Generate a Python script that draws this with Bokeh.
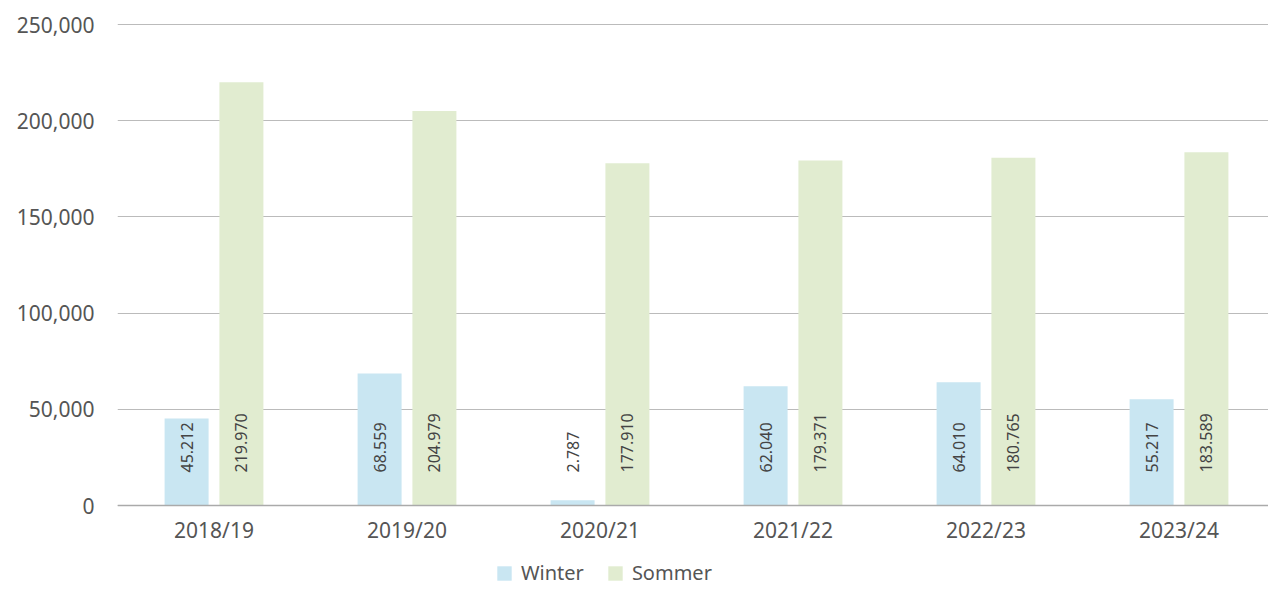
from bokeh.plotting import figure
from bokeh.models import ColumnDataSource, FixedTicker, Legend, LegendItem, NumeralTickFormatter
from bokeh.embed import file_html
from bokeh.resources import INLINE
from bokeh.core.properties import value
import math

seasons = ["2018/19", "2019/20", "2020/21", "2021/22", "2022/23", "2023/24"]
winter = [45212, 68559, 2787, 62040, 64010, 55217]
sommer = [219970, 204979, 177910, 179371, 180765, 183589]
y_ticks = [0, 50000, 100000, 150000, 200000, 250000]

def fmt(v):
    return f"{v:,}".replace(",", ".")

xs = [i + 0.5 for i in range(len(seasons))]
off = 0.142
bw = 0.228

src_w = ColumnDataSource(dict(x=[x - off for x in xs], top=winter, lab=[fmt(v) for v in winter], zero=[0]*len(xs)))
src_s = ColumnDataSource(dict(x=[x + off for x in xs], top=sommer, lab=[fmt(v) for v in sommer], zero=[0]*len(xs)))

W, H = 1268, 592
LEFT, TOP = 117, 16
unit = 481 / 250000
BOTTOM_PX = 592 - 505  # space below the zero line
TOP_PX = 24 - TOP       # space above the top gridline
p = figure(width=W, height=H, output_backend="svg", toolbar_location=None,
           x_range=(0, (W - LEFT) / 193),
           y_range=(-BOTTOM_PX / unit, 250000 + TOP_PX / unit),
           min_border_left=LEFT, min_border_right=0, min_border_top=TOP, min_border_bottom=0)
p.outline_line_color = None
p.background_fill_color = "white"

FONT = "Noto Sans"
TXT = "#555555"

rw = p.vbar(x="x", top="top", bottom=0, width=bw, source=src_w, fill_color="#c9e6f2", line_color=None)
rs = p.vbar(x="x", top="top", bottom=0, width=bw, source=src_s, fill_color="#e1ecd0", line_color=None)

for src in (src_w, src_s):
    p.text(x="x", y="zero", text="lab", source=src, angle=math.pi/2, y_offset=-33,
           text_align="left", text_baseline="middle", text_font=value(FONT),
           text_font_size="16px", text_color="#444444")

p.xaxis.fixed_location = 0
p.xaxis.ticker = FixedTicker(ticks=xs)
p.xaxis.major_label_overrides = {x: s for x, s in zip(xs, seasons)}
p.xaxis.major_tick_line_color = None
p.xaxis.minor_tick_line_color = None
p.xaxis.axis_line_color = "#aaaaaa"
p.xaxis.axis_line_width = 1.5
p.xaxis.major_label_text_font = FONT
p.xaxis.major_label_text_font_size = "21px"
p.xaxis.major_label_text_color = TXT
p.xaxis.major_label_standoff = 4
p.xgrid.grid_line_color = None

p.yaxis.ticker = FixedTicker(ticks=y_ticks)
p.yaxis.formatter = NumeralTickFormatter(format="0,0")
p.yaxis.axis_line_color = None
p.yaxis.major_tick_line_color = None
p.yaxis.minor_tick_line_color = None
p.yaxis.major_label_text_font = FONT
p.yaxis.major_label_text_font_size = "21px"
p.yaxis.major_label_text_color = TXT
p.yaxis.major_label_standoff = 17
p.ygrid.grid_line_color = "#bbbbbb"
p.ygrid.grid_line_width = 1.2

legend = Legend(items=[LegendItem(label="Winter", renderers=[rw]), LegendItem(label="Sommer", renderers=[rs])],
                orientation="horizontal", location=(378, 6),
                label_text_font=FONT, label_text_font_size="20px", label_text_color=TXT,
                glyph_width=18, glyph_height=18, spacing=22, label_standoff=8,
                border_line_color=None, background_fill_alpha=0, padding=2, margin=0)
p.add_layout(legend, "center")

open("out.html", "w").write(file_html(p, INLINE))
